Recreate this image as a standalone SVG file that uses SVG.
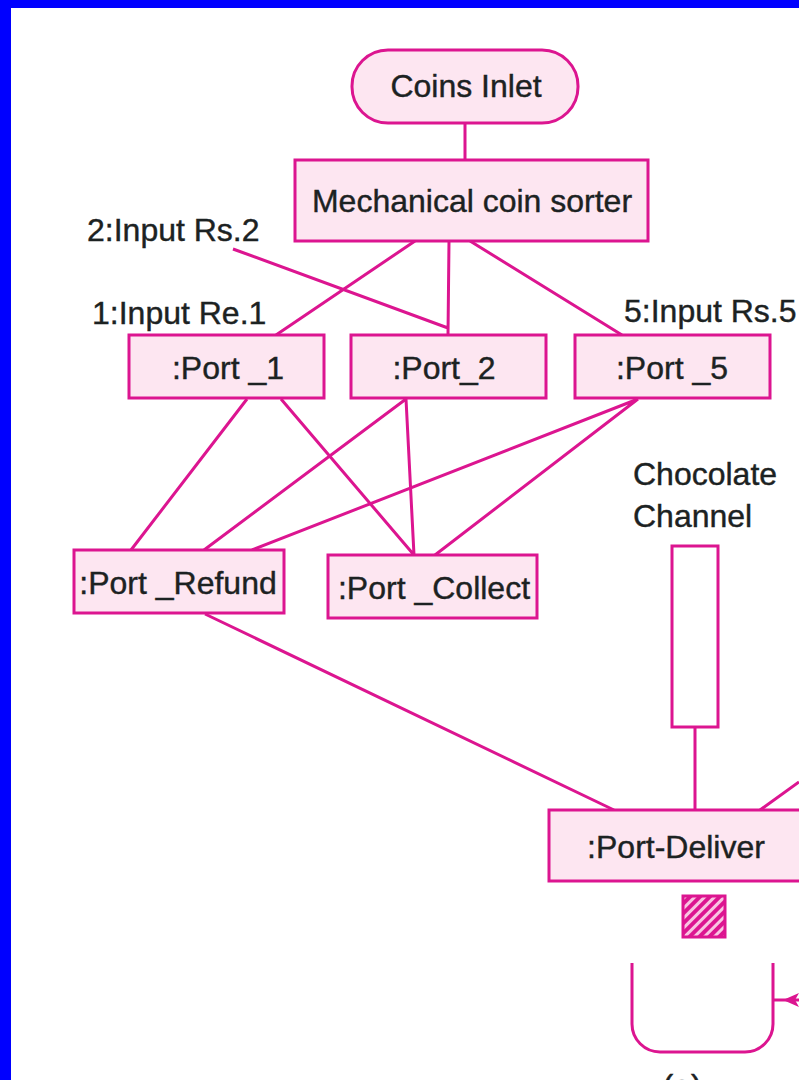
<svg xmlns="http://www.w3.org/2000/svg" width="799" height="1080" viewBox="0 0 799 1080">
<style>
.n{fill:#fde6f1;stroke:#dc1590;stroke-width:3}
.c{fill:none;stroke:#dc1590;stroke-width:3}
.w{fill:#fff;stroke:#dc1590;stroke-width:3}
text{font-family:"Liberation Sans",Arial,sans-serif;font-size:32px;fill:#1c2222;stroke:#1c2222;stroke-width:.4;text-anchor:middle}
.l{text-anchor:start}
</style>
<defs>
<pattern id="h" width="7" height="7" patternUnits="userSpaceOnUse" patternTransform="rotate(45)"><rect width="7" height="7" fill="#f9c4e2"/><rect width="4" height="7" fill="#dc1590"/></pattern>
</defs>
<rect width="799" height="1080" fill="#fff"/>
<rect width="799" height="8" fill="#0000ff"/>
<rect width="11" height="1080" fill="#0000ff"/>
<g id="connectors">
<path class="c" d="M465 123V160M415 241L276 335M449 241L448 335M470 241L622 335M233 249L448 328M247 399L131 550M281 399L414 555M406 399L204 550M406 399L414 555M638 399L252 550M638 399L435 555M205 614L614 810M695 727V810M799 782L760 810"/>
</g>
<g id="coins-inlet"><rect class="n" x="352" y="50" width="226" height="73" rx="36"/><text x="466" y="97">Coins Inlet</text></g>
<g id="sorter"><rect class="n" x="295" y="160" width="353" height="81"/><text x="472" y="212">Mechanical coin sorter</text></g>
<g id="label-2"><text class="l" x="87" y="241">2:Input Rs.2</text></g>
<g id="label-1"><text class="l" x="92" y="324">1:Input Re.1</text></g>
<g id="label-5"><text class="l" x="624" y="322">5:Input Rs.5</text></g>
<g id="port-1"><rect class="n" x="129" y="335" width="195" height="63"/><text x="228" y="379">:Port _1</text></g>
<g id="port-2"><rect class="n" x="351" y="335" width="195" height="63"/><text x="444" y="379">:Port_2</text></g>
<g id="port-5"><rect class="n" x="575" y="335" width="195" height="63"/><text x="672" y="379">:Port _5</text></g>
<g id="port-refund"><rect class="n" x="74" y="550" width="210" height="63"/><text x="178" y="594">:Port _Refund</text></g>
<g id="port-collect"><rect class="n" x="328" y="555" width="209" height="63"/><text x="434" y="599">:Port _Collect</text></g>
<g id="channel"><text class="l" x="633" y="485">Chocolate</text><text class="l" x="633" y="527">Channel</text><rect class="w" x="672" y="546" width="46" height="181"/></g>
<g id="port-deliver"><rect x="549" y="810" width="260" height="71" class="n"/><text x="676" y="858">:Port-Deliver</text></g>
<g id="chocolate"><rect x="683" y="896" width="42" height="41" fill="url(#h)" stroke="#dc1590" stroke-width="3"/></g>
<g id="tray"><path class="c" d="M632 963V1024A28 28 0 0 0 660 1052H745A28 28 0 0 0 773 1024V963"/><path class="c" d="M773 1000H799"/><path d="M783 1000L799 993L795 1000L799 1007Z" fill="#dc1590"/></g>
<text x="682" y="1097">(a)</text>
</svg>
